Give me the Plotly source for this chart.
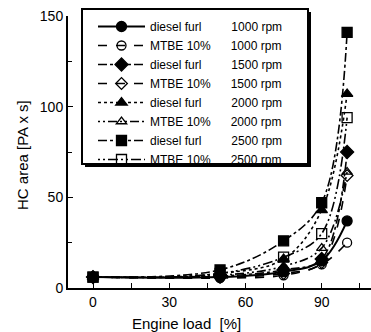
import plotly.graph_objects as go

# ---- data ----
load = [0, 50, 75, 90, 100]
diesel_1000 = [6, 6, 9, 15, 37]
mtbe_1000 = [6, 5.5, 7, 13, 25]
diesel_1500 = [6, 6.5, 10, 16, 75]
mtbe_1500 = [6, 6, 8, 14, 62]
diesel_2000 = [6, 8, 16, 43, 107]
mtbe_2000 = [6, 7, 12, 22, 64]
diesel_2500 = [6, 10, 26, 47, 141]
mtbe_2500 = [6, 8, 17, 30, 94]

fuel_names = ["diesel furl", "MTBE 10%"]
rpm_labels = ["1000 rpm", "1500 rpm", "2000 rpm", "2500 rpm"]
x_ticks = [0, 30, 60, 90]
y_ticks = [0, 50, 100, 150]

series = [diesel_1000, mtbe_1000, diesel_1500, mtbe_1500,
          diesel_2000, mtbe_2000, diesel_2500, mtbe_2500]
symbols = ["circle", "circle", "diamond", "diamond",
           "triangle-up", "triangle-up", "square", "square"]
dashes = ["solid", "dash", "dashdot", "dash",
          "3px,3px", "2px,3px,2px,3px,9px,3px", "dashdot", "2px,3px,2px,3px,10px,3px"]
sizes = [10, 9, 10, 9, 10, 9, 10, 10]

NB = "\u00a0"
fig = go.Figure()
for i, ys in enumerate(series):
    diesel = (i % 2 == 0)
    fuel = fuel_names[i % 2]
    rpm = rpm_labels[i // 2]
    pad = NB * (9 if diesel else 6)
    sym = symbols[i] if diesel else symbols[i] + "-open"
    fig.add_trace(go.Scatter(
        x=load, y=ys, mode="lines+markers",
        name=fuel + pad + rpm,
        line=dict(color="black", width=2 if i == 0 else 1.6, dash=dashes[i], shape="spline", smoothing=1),
        marker=dict(symbol=sym, size=sizes[i], color="black",
                    line=dict(color="black", width=1.3)),
    ))

W, H = 371, 332
L, R, T, B = 68, 0, 16, 44
pw, ph = W - L - R, H - T - B


def px_x(p):
    return (p - L) / pw


def px_y(p):
    return (H - B - p) / ph


shapes = [
    # legend shadow
    dict(type="rect", xref="paper", yref="paper", layer="above",
         x0=px_x(85), x1=px_x(311), y0=px_y(12), y1=px_y(167),
         fillcolor="black", line=dict(width=0)),
    # legend box
    dict(type="rect", xref="paper", yref="paper", layer="above",
         x0=px_x(82), x1=px_x(308), y0=px_y(9), y1=px_y(164),
         fillcolor="white", line=dict(color="black", width=2)),
]

fig.update_layout(
    width=W, height=H,
    margin=dict(l=L, r=R, t=T, b=B),
    paper_bgcolor="white", plot_bgcolor="white",
    font=dict(family="Liberation Sans, Arial, sans-serif", color="black", size=14),
    showlegend=True,
    legend=dict(x=px_x(93), y=px_y(12), xanchor="left", yanchor="top",
                bgcolor="rgba(0,0,0,0)", borderwidth=0,
                font=dict(size=12), itemwidth=47, tracegroupgap=0),
    shapes=shapes,
    annotations=[
        dict(text="Engine load  [%]", xref="paper", yref="paper",
             x=px_x(186), y=px_y(323), xanchor="center", yanchor="middle",
             showarrow=False, font=dict(size=15)),
        dict(text="HC area [PA x s]", xref="paper", yref="paper",
             x=px_x(22), y=px_y(155), xanchor="center", yanchor="middle",
             showarrow=False, textangle=-90, font=dict(size=15)),
    ],
)

fig.update_xaxes(range=[-9.84, 109.4], tickvals=x_ticks, ticktext=[str(v) for v in x_ticks],
                 ticks="inside", ticklen=5, tickwidth=1, tickcolor="black",
                 minor=dict(dtick=15, tick0=0, ticks="inside", ticklen=5, tickcolor="black"),
                 showline=True, linecolor="black", linewidth=2, showgrid=False, zeroline=False,
                 tickfont=dict(size=14))
fig.update_yaxes(range=[0, 150], tickvals=y_ticks, ticktext=[str(v) for v in y_ticks],
                 ticks="inside", ticklen=5, tickwidth=1, tickcolor="black",
                 minor=dict(dtick=25, tick0=0, ticks="inside", ticklen=4, tickcolor="black"),
                 showline=True, linecolor="black", linewidth=2, showgrid=False, zeroline=False,
                 tickfont=dict(size=14))

fig.write_html("out.html")
